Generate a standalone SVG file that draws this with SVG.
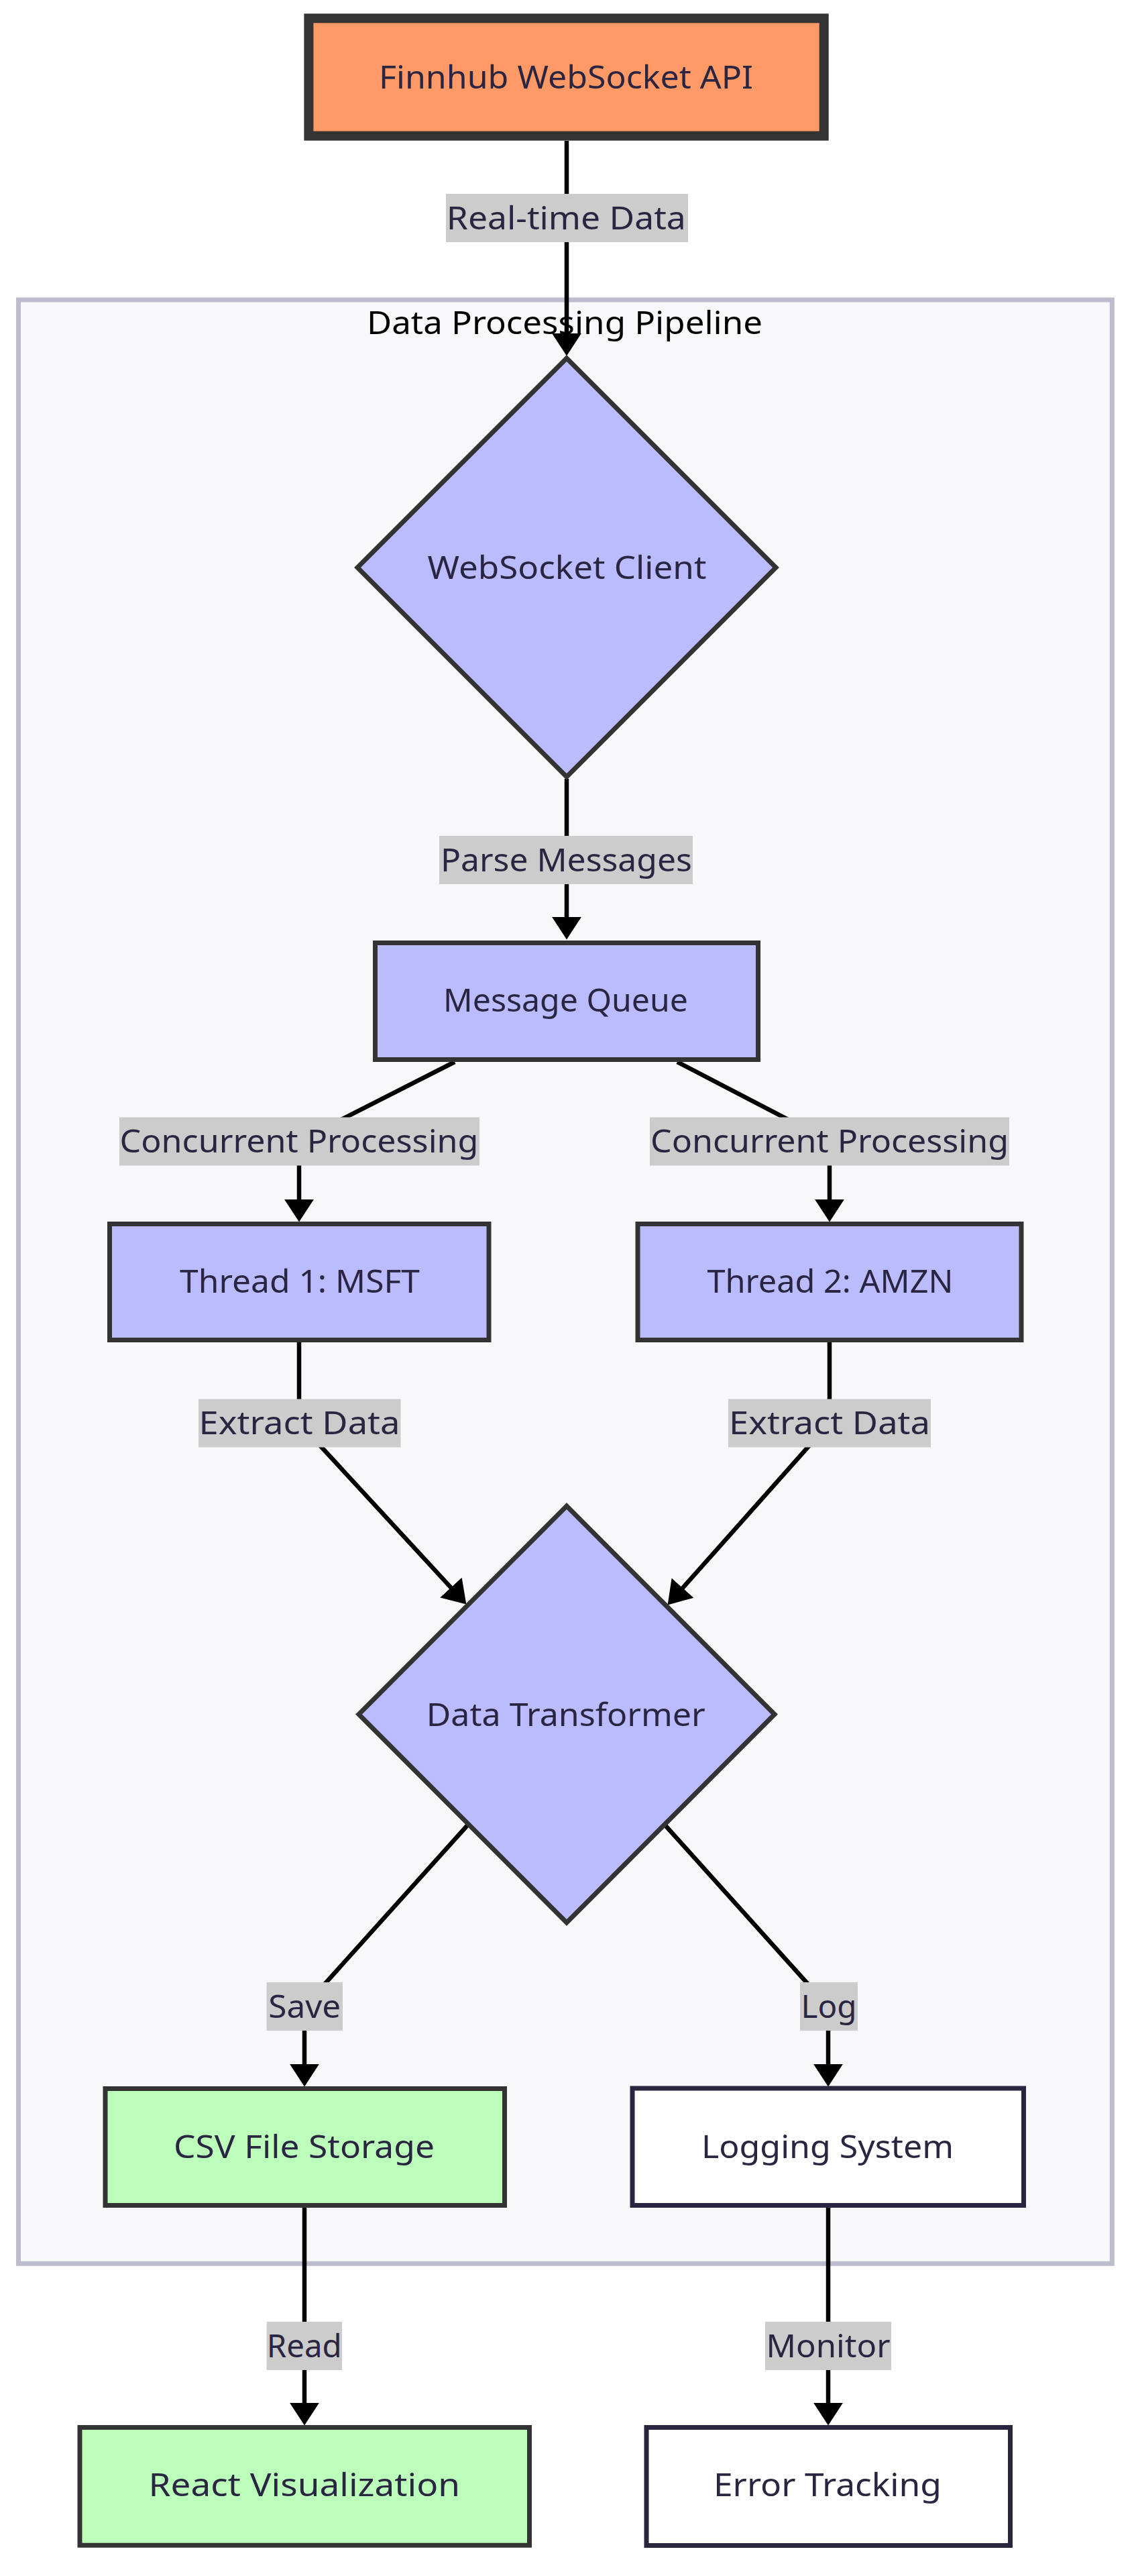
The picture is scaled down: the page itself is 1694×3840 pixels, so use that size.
<svg xmlns="http://www.w3.org/2000/svg" width="1694" height="3840" viewBox="0 0 1694 3840">
<style>
.t{font-family:"Noto Sans","Liberation Sans",sans-serif;font-size:48px;fill:#2a2641;text-anchor:middle}
.title{font-family:"Noto Sans","Liberation Sans",sans-serif;font-size:48px;fill:#000;text-anchor:middle}
.proc{fill:#bbbbff;stroke:#333;stroke-width:7}
.store{fill:#bbffbb;stroke:#333;stroke-width:7}
.plain{fill:#fff;stroke:#29253f;stroke-width:7}
.edge{fill:none;stroke:#000;stroke-width:6.5}
.lbl{fill:#cccccc}
</style>
<defs>
<marker id="arr" markerUnits="userSpaceOnUse" markerWidth="34" markerHeight="44" viewBox="0 0 33 43" refX="8" refY="21.5" orient="auto">
<path d="M0,0 L33,21.5 L0,43 z" fill="#000"/>
</marker>
</defs>
<rect width="1694" height="3840" fill="#fff"/>
<g id="cluster-pipeline">
<rect x="27.5" y="447" width="1630.8" height="2927.3" fill="#f8f8fb" stroke="#bdbccf" stroke-width="7"/>
<text class="title" x="842" y="498" textLength="590" lengthAdjust="spacingAndGlyphs">Data Processing Pipeline</text>
</g>
<g id="connectors">
<path class="edge" d="M845,210 L845,505" marker-end="url(#arr)"/>
<path class="edge" d="M845,1161 L845,1375" marker-end="url(#arr)"/>
<path class="edge" d="M678,1583 L446,1701 L446,1796" marker-end="url(#arr)"/>
<path class="edge" d="M1010,1583 L1237,1701 L1237,1796" marker-end="url(#arr)"/>
<path class="edge" d="M446,2001 L446,2121 L678,2372.6" marker-end="url(#arr)"/>
<path class="edge" d="M1237,2001 L1237,2121 L1012.6,2373.3" marker-end="url(#arr)"/>
<path class="edge" d="M697,2721 L454,2991 L454,3085" marker-end="url(#arr)"/>
<path class="edge" d="M992,2721 L1235,2991 L1235,3085" marker-end="url(#arr)"/>
<path class="edge" d="M454,3291 L454,3590" marker-end="url(#arr)"/>
<path class="edge" d="M1235,3291 L1235,3590" marker-end="url(#arr)"/>
<g id="edge-labels">
<rect class="lbl" x="665" y="289" width="361" height="72"/>
<text class="t" x="844.3" y="342" textLength="357" lengthAdjust="spacingAndGlyphs">Real-time Data</text>
<rect class="lbl" x="655" y="1246" width="378" height="72"/>
<text class="t" x="844.4" y="1299" textLength="375" lengthAdjust="spacingAndGlyphs">Parse Messages</text>
<rect class="lbl" x="178" y="1665.5" width="537" height="72"/>
<text class="t" x="446" y="1718" textLength="535" lengthAdjust="spacingAndGlyphs">Concurrent Processing</text>
<rect class="lbl" x="969" y="1665.5" width="536" height="72"/>
<text class="t" x="1237" y="1718" textLength="534" lengthAdjust="spacingAndGlyphs">Concurrent Processing</text>
<rect class="lbl" x="296" y="2085.5" width="301.5" height="72"/>
<text class="t" x="446.5" y="2138" textLength="300" lengthAdjust="spacingAndGlyphs">Extract Data</text>
<rect class="lbl" x="1086" y="2085.5" width="302" height="72"/>
<text class="t" x="1237" y="2138" textLength="300" lengthAdjust="spacingAndGlyphs">Extract Data</text>
<rect class="lbl" x="397.6" y="2955" width="113.4" height="72"/>
<text class="t" x="454.3" y="3008" textLength="108" lengthAdjust="spacingAndGlyphs">Save</text>
<rect class="lbl" x="1193" y="2955" width="86" height="72"/>
<text class="t" x="1236" y="3008" textLength="83" lengthAdjust="spacingAndGlyphs">Log</text>
<rect class="lbl" x="397.6" y="3461" width="112.4" height="72"/>
<text class="t" x="453.8" y="3514" textLength="112" lengthAdjust="spacingAndGlyphs">Read</text>
<rect class="lbl" x="1141" y="3461" width="188" height="72"/>
<text class="t" x="1235" y="3514" textLength="185" lengthAdjust="spacingAndGlyphs">Monitor</text>
</g>
</g>
<g id="node-finnhub">
<rect x="460.4" y="27.3" width="768.3" height="175.3" fill="#ff9966" stroke="#333" stroke-width="14"/>
<text class="t" x="844" y="131.5" textLength="558" lengthAdjust="spacingAndGlyphs">Finnhub WebSocket API</text>
</g>
<g id="node-wsclient">
<polygon class="proc" points="845,534 1157,846 845,1158 533,846"/>
<text class="t" x="845.4" y="863" textLength="416" lengthAdjust="spacingAndGlyphs">WebSocket Client</text>
</g>
<g id="node-queue">
<rect class="proc" x="559.5" y="1405.5" width="571" height="174"/>
<text class="t" x="843.5" y="1508" textLength="365" lengthAdjust="spacingAndGlyphs">Message Queue</text>
</g>
<g id="node-thread1">
<rect class="proc" x="163.5" y="1824.5" width="565.5" height="173"/>
<text class="t" x="447" y="1927" textLength="358" lengthAdjust="spacingAndGlyphs">Thread 1: MSFT</text>
</g>
<g id="node-thread2">
<rect class="proc" x="951" y="1824.5" width="572" height="173"/>
<text class="t" x="1238" y="1927" textLength="367" lengthAdjust="spacingAndGlyphs">Thread 2: AMZN</text>
</g>
<g id="node-transformer">
<polygon class="proc" points="845,2245 1155,2555.5 845,2866 535,2555.5"/>
<text class="t" x="843.8" y="2572.5" textLength="416" lengthAdjust="spacingAndGlyphs">Data Transformer</text>
</g>
<g id="node-csv">
<rect class="store" x="157" y="3113.5" width="595.5" height="174"/>
<text class="t" x="453.5" y="3216.5" textLength="389" lengthAdjust="spacingAndGlyphs">CSV File Storage</text>
</g>
<g id="node-logging">
<rect class="plain" x="943" y="3113" width="583.5" height="174.5"/>
<text class="t" x="1234" y="3216.5" textLength="376" lengthAdjust="spacingAndGlyphs">Logging System</text>
</g>
<g id="node-react">
<rect class="store" x="119" y="3618.5" width="670.5" height="175.7"/>
<text class="t" x="453.8" y="3721" textLength="464.6" lengthAdjust="spacingAndGlyphs">React Visualization</text>
</g>
<g id="node-error">
<rect class="plain" x="964" y="3618.5" width="542.5" height="176"/>
<text class="t" x="1234" y="3721" textLength="340" lengthAdjust="spacingAndGlyphs">Error Tracking</text>
</g>
</svg>
